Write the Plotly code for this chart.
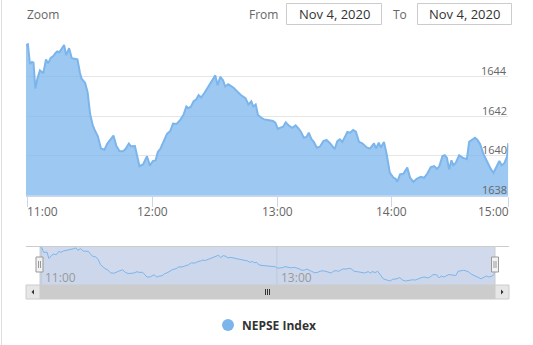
import pandas as pd
import plotly.graph_objects as go

# ---------------- data ----------------
session_date = "2020-11-04"
session_open = "11:00"
# minutes elapsed since 11:00 for each sample
minutes = [-0.6, 0.3, 1.3, 2.3, 3.0, 3.9, 4.8, 6.1, 7.1, 7.7,
           9.0, 10.0, 11.3, 12.5, 13.6, 14.4, 15.4, 16.5, 17.7, 18.7,
           20.1, 21.4, 22.6, 24.1, 25.3, 26.1, 27.8, 29.0, 30.2, 31.4,
           32.5, 33.9, 35.4, 37.1, 38.3, 39.5, 41.4, 42.8, 44.3, 46.0,
           47.2, 48.8, 49.8, 51.7, 52.7, 53.9, 55.6, 57.5, 58.9, 60.3,
           61.6, 62.7, 64.0, 65.4, 67.1, 68.7, 70.0, 71.7, 73.6, 75.1,
           76.4, 77.3, 78.6, 79.9, 81.2, 82.3, 83.5, 85.2, 86.6, 88.2,
           89.5, 90.3, 91.4, 92.7, 94.0, 95.1, 96.5, 97.9, 99.1, 100.7,
           102.7, 104.8, 106.2, 107.6, 108.5, 109.7, 110.8, 112.4, 113.8, 115.5,
           118.0, 119.2, 120.3, 121.6, 122.9, 124.1, 125.6, 127.3, 128.9, 130.4,
           131.6, 132.8, 134.1, 135.2, 136.4, 137.6, 139.1, 140.5, 142.2, 143.7,
           145.5, 147.6, 148.9, 155.1, 156.3, 157.9, 158.7, 160.0, 161.5, 162.8,
           164.3, 165.9, 168.0, 169.6, 171.5, 172.5, 173.8, 174.8, 176.3, 177.6,
           179.1, 180.8, 181.9, 182.7, 184.0, 185.6, 187.5, 188.8, 190.4, 192.0,
           194.0, 195.6, 197.1, 198.8, 200.4, 201.7, 202.8, 204.4, 205.5, 206.5,
           207.6, 208.7, 209.6, 214.8, 216.4, 218.0, 220.1, 221.2, 222.8, 224.0,
           225.2, 226.5, 228.1, 230.0, 231.7, 232.9, 234.5, 235.7, 236.8, 238.1,
           239.4, 240.0]
nepse_index = [1645.56, 1645.60, 1644.61, 1644.71, 1644.68, 1643.38, 1643.84, 1644.29, 1644.21, 1644.14,
               1644.84, 1644.64, 1644.92, 1645.01, 1645.16, 1645.24, 1645.20, 1645.38, 1645.56, 1645.05,
               1645.40, 1644.90, 1644.87, 1644.84, 1644.17, 1643.87, 1643.66, 1643.18, 1642.10, 1641.55,
               1641.27, 1640.98, 1640.37, 1640.31, 1640.59, 1640.74, 1641.02, 1640.49, 1640.24, 1640.23,
               1640.34, 1640.62, 1640.48, 1640.49, 1640.08, 1639.48, 1639.57, 1639.98, 1639.51, 1639.74,
               1639.77, 1640.19, 1640.37, 1640.74, 1641.10, 1641.25, 1641.62, 1641.60, 1641.82, 1642.08,
               1642.48, 1642.40, 1642.47, 1642.75, 1642.84, 1643.05, 1642.93, 1643.18, 1643.42, 1643.63,
               1643.86, 1644.04, 1643.54, 1643.97, 1643.79, 1643.48, 1643.59, 1643.50, 1643.42, 1643.25,
               1643.04, 1642.90, 1642.58, 1642.73, 1642.48, 1642.58, 1642.05, 1641.91, 1641.83, 1641.80,
               1641.75, 1641.65, 1641.35, 1641.42, 1641.46, 1641.68, 1641.52, 1641.41, 1641.53, 1641.36,
               1641.17, 1640.91, 1640.95, 1641.16, 1640.85, 1640.70, 1640.41, 1640.46, 1640.74, 1640.80,
               1640.62, 1640.34, 1640.74, 1640.83, 1640.70, 1641.03, 1641.20, 1641.16, 1641.30, 1641.22,
               1640.70, 1640.63, 1640.42, 1640.36, 1640.63, 1640.37, 1640.66, 1640.42, 1640.70, 1640.08,
               1639.16, 1638.91, 1638.85, 1638.70, 1639.07, 1639.10, 1639.41, 1638.91, 1638.69, 1638.85,
               1638.95, 1638.90, 1639.11, 1639.44, 1639.49, 1639.35, 1639.46, 1639.99, 1640.03, 1639.91,
               1639.32, 1639.78, 1639.53, 1639.66, 1640.03, 1639.91, 1639.83, 1640.70, 1640.80, 1640.91,
               1640.80, 1640.58, 1640.08, 1639.66, 1639.32, 1639.15, 1639.49, 1639.74, 1639.53, 1639.63,
               1639.96, 1640.64]
series_name = "NEPSE Index"
x_tick_labels = ["11:00", "12:00", "13:00", "14:00", "15:00"]
nav_tick_labels = ["11:00", "13:00"]
y_tick_values = [1638, 1640, 1642, 1644, 1646]
y_tick_labels = ["1638", "1640", "1642", "1644"]
# gaps without trades (ordinal axis compression): (start, length in minutes)
gaps = [("13:30", 5), ("14:30", 4)]
from_date = "Nov 4, 2020"
to_date = "Nov 4, 2020"

# ---------------- prep ----------------
base = pd.Timestamp(f"{session_date} {session_open}")
times = (base + pd.to_timedelta(minutes, unit="m")).strftime("%Y-%m-%d %H:%M:%S").tolist()
tick_times = [f"{session_date} {t}:00" for t in x_tick_labels]
nav_times = [f"{session_date} {t}:00" for t in nav_tick_labels]
breaks = [dict(values=[f"{session_date} {s}:00"], dvalue=d * 60000) for s, d in gaps]

W, H = 533, 345
FONT = "Open Sans"
def X(px):
    return px / W
def Y(py):
    return 1 - py / H

fig = go.Figure()
fig.add_trace(go.Scatter(
    x=times, y=nepse_index, name=series_name, mode="lines",
    line=dict(color="#7cb5ec", width=2),
    fill="tozeroy", fillcolor="rgba(124,181,236,0.75)",
    xaxis="x", yaxis="y", hoverinfo="skip", showlegend=False))
fig.add_trace(go.Scatter(
    x=times, y=nepse_index, mode="lines",
    line=dict(color="#7cb5ec", width=1),
    fill="tozeroy", fillcolor="rgba(124,181,236,0.05)",
    xaxis="x2", yaxis="y2", hoverinfo="skip", showlegend=False))

shapes = []
ann = []

# left container border
shapes.append(dict(type="line", xref="paper", yref="paper", x0=X(1.5), x1=X(1.5), y0=0, y1=1,
                   line=dict(color="#dedede", width=1)))

# range selector
ann.append(dict(text="Zoom", xref="paper", yref="paper", x=X(25), y=Y(14), xanchor="left",
                yanchor="middle", showarrow=False, font=dict(family=FONT, size=12, color="#666666")))
ann.append(dict(text="From", xref="paper", yref="paper", x=X(280), y=Y(14), xanchor="right",
                yanchor="middle", showarrow=False, font=dict(family=FONT, size=12, color="#666666")))
ann.append(dict(text="To", xref="paper", yref="paper", x=X(409), y=Y(14), xanchor="right",
                yanchor="middle", showarrow=False, font=dict(family=FONT, size=12, color="#666666")))
for (x0, x1), txt in [((286.5, 381.5), from_date), ((417.5, 511.5), to_date)]:
    shapes.append(dict(type="rect", xref="paper", yref="paper", x0=X(x0), x1=X(x1), y0=Y(24.5), y1=Y(3.5),
                       line=dict(color="#cccccc", width=1), fillcolor="white"))
    ann.append(dict(text=txt, xref="paper", yref="paper", x=X((x0 + x1) / 2), y=Y(14), xanchor="center",
                    yanchor="middle", showarrow=False, font=dict(family=FONT, size=13, color="#333333")))

# main x tick labels
for i, (t, lab) in enumerate(zip(tick_times, x_tick_labels)):
    anchor = "left" if i == 0 else ("right" if i == len(tick_times) - 1 else "center")
    shift = -2 if i == 0 else (3 if i == len(tick_times) - 1 else 0)
    ann.append(dict(text=lab, xref="x", yref="paper", x=t, y=Y(211), xanchor=anchor, xshift=shift,
                    yanchor="middle", showarrow=False, font=dict(family=FONT, size=12, color="#666666")))
# main y labels
for v, lab in zip(y_tick_values, y_tick_labels):
    ann.append(dict(text=lab, xref="paper", yref="y", x=X(509), y=v, xanchor="right", yanchor="middle",
                    yshift=6, showarrow=False, font=dict(family=FONT, size=11, color="#666666")))

# navigator
nav_top, nav_bot = 246, 285
nav_l, nav_r = 40, 495
shapes.append(dict(type="rect", xref="paper", yref="paper", x0=X(nav_l), x1=X(nav_r), y0=Y(nav_bot), y1=Y(nav_top),
                   fillcolor="rgba(102,133,194,0.3)", line=dict(width=0), layer="below"))
for t in nav_times:
    shapes.append(dict(type="line", xref="x2", yref="paper", x0=t, x1=t, y0=Y(nav_bot), y1=Y(nav_top),
                       line=dict(color="#c0c9db", width=1), layer="below"))
for t, lab in zip(nav_times, nav_tick_labels):
    ann.append(dict(text=lab, xref="x2", yref="paper", x=t, y=Y(277), xanchor="left", xshift=2,
                    yanchor="middle", showarrow=False, font=dict(family=FONT, size=12, color="#999999")))
# outline
shapes.append(dict(type="line", xref="paper", yref="paper", x0=X(26), x1=X(509), y0=Y(nav_top + 0.5), y1=Y(nav_top + 0.5),
                   line=dict(color="#cccccc", width=1)))
for xx in (nav_l, nav_r):
    shapes.append(dict(type="line", xref="paper", yref="paper", x0=X(xx), x1=X(xx), y0=Y(nav_bot), y1=Y(nav_top),
                       line=dict(color="#cccccc", width=1)))
# scrollbar
sb_top, sb_bot = 285, 299
shapes.append(dict(type="rect", xref="paper", yref="paper", x0=X(26), x1=X(509), y0=Y(sb_bot), y1=Y(sb_top),
                   fillcolor="#f2f2f2", line=dict(width=0)))
shapes.append(dict(type="rect", xref="paper", yref="paper", x0=X(nav_l), x1=X(nav_r), y0=Y(sb_bot), y1=Y(sb_top),
                   fillcolor="#cccccc", line=dict(color="#cccccc", width=1)))
for x0, x1 in [(26, 40), (495, 509)]:
    shapes.append(dict(type="rect", xref="paper", yref="paper", x0=X(x0), x1=X(x1), y0=Y(sb_bot), y1=Y(sb_top),
                       fillcolor="#e6e6e6", line=dict(color="#cccccc", width=1)))
# arrows
shapes.append(dict(type="path", xref="paper", yref="paper",
                   path=f"M {X(31.5)},{Y(292)} L {X(34)},{Y(289.5)} L {X(34)},{Y(294.5)} Z",
                   fillcolor="#333333", line=dict(width=0)))
shapes.append(dict(type="path", xref="paper", yref="paper",
                   path=f"M {X(503.5)},{Y(292)} L {X(501)},{Y(289.5)} L {X(501)},{Y(294.5)} Z",
                   fillcolor="#333333", line=dict(width=0)))
# rifles
for xx in (265.5, 267.5, 269.5):
    shapes.append(dict(type="line", xref="paper", yref="paper", x0=X(xx), x1=X(xx), y0=Y(295), y1=Y(289),
                       line=dict(color="#333333", width=1)))
# handles
for hx in (36, 491.5):
    shapes.append(dict(type="rect", xref="paper", yref="paper", x0=X(hx), x1=X(hx + 7), y0=Y(272), y1=Y(257),
                       fillcolor="#f2f2f2", line=dict(color="#999999", width=1)))
    for dx in (2.5, 4.5):
        shapes.append(dict(type="line", xref="paper", yref="paper", x0=X(hx + dx), x1=X(hx + dx), y0=Y(268), y1=Y(261),
                           line=dict(color="#999999", width=1)))

# legend
shapes.append(dict(type="circle", xref="paper", yref="paper", x0=X(222), x1=X(234), y0=Y(331), y1=Y(319),
                   fillcolor="#7cb5ec", line=dict(width=0)))
ann.append(dict(text=f"<b>{series_name}</b>", xref="paper", yref="paper", x=X(240), y=Y(325), xanchor="left",
                yanchor="middle", showarrow=False, font=dict(family=FONT, size=12, color="#333333")))

fig.update_layout(
    width=W, height=H, margin=dict(l=0, r=0, t=0, b=0, pad=0),
    paper_bgcolor="white", plot_bgcolor="rgba(0,0,0,0)",
    font=dict(family=FONT),
    showlegend=False, hovermode=False,
    xaxis=dict(domain=[X(26), X(508.3)], anchor="y", type="date", range=[times[0], times[-1]],
               rangebreaks=breaks, tickvals=tick_times, showticklabels=False,
               ticks="outside", ticklen=10, tickcolor="#ccd6eb", tickwidth=1,
               showline=True, linecolor="#ccd6eb", linewidth=1, showgrid=False, zeroline=False,
               fixedrange=True),
    yaxis=dict(domain=[Y(195.7), Y(36.3)], anchor="x", range=[1638, 1646], tickvals=y_tick_values,
               showticklabels=False, gridcolor="#e6e6e6", gridwidth=1, zeroline=False, showline=False,
               ticks="", fixedrange=True),
    xaxis2=dict(domain=[X(nav_l), X(nav_r)], anchor="y2", type="date", range=[times[0], times[-1]],
                rangebreaks=breaks, showticklabels=False, showgrid=False, zeroline=False, showline=False,
                ticks="", fixedrange=True),
    yaxis2=dict(domain=[Y(nav_bot), Y(nav_top)], anchor="x2", range=[1637.86, 1645.95], visible=False,
                fixedrange=True),
    shapes=shapes, annotations=ann,
)

fig.write_html("out.html", config=dict(displayModeBar=False, staticPlot=True))
